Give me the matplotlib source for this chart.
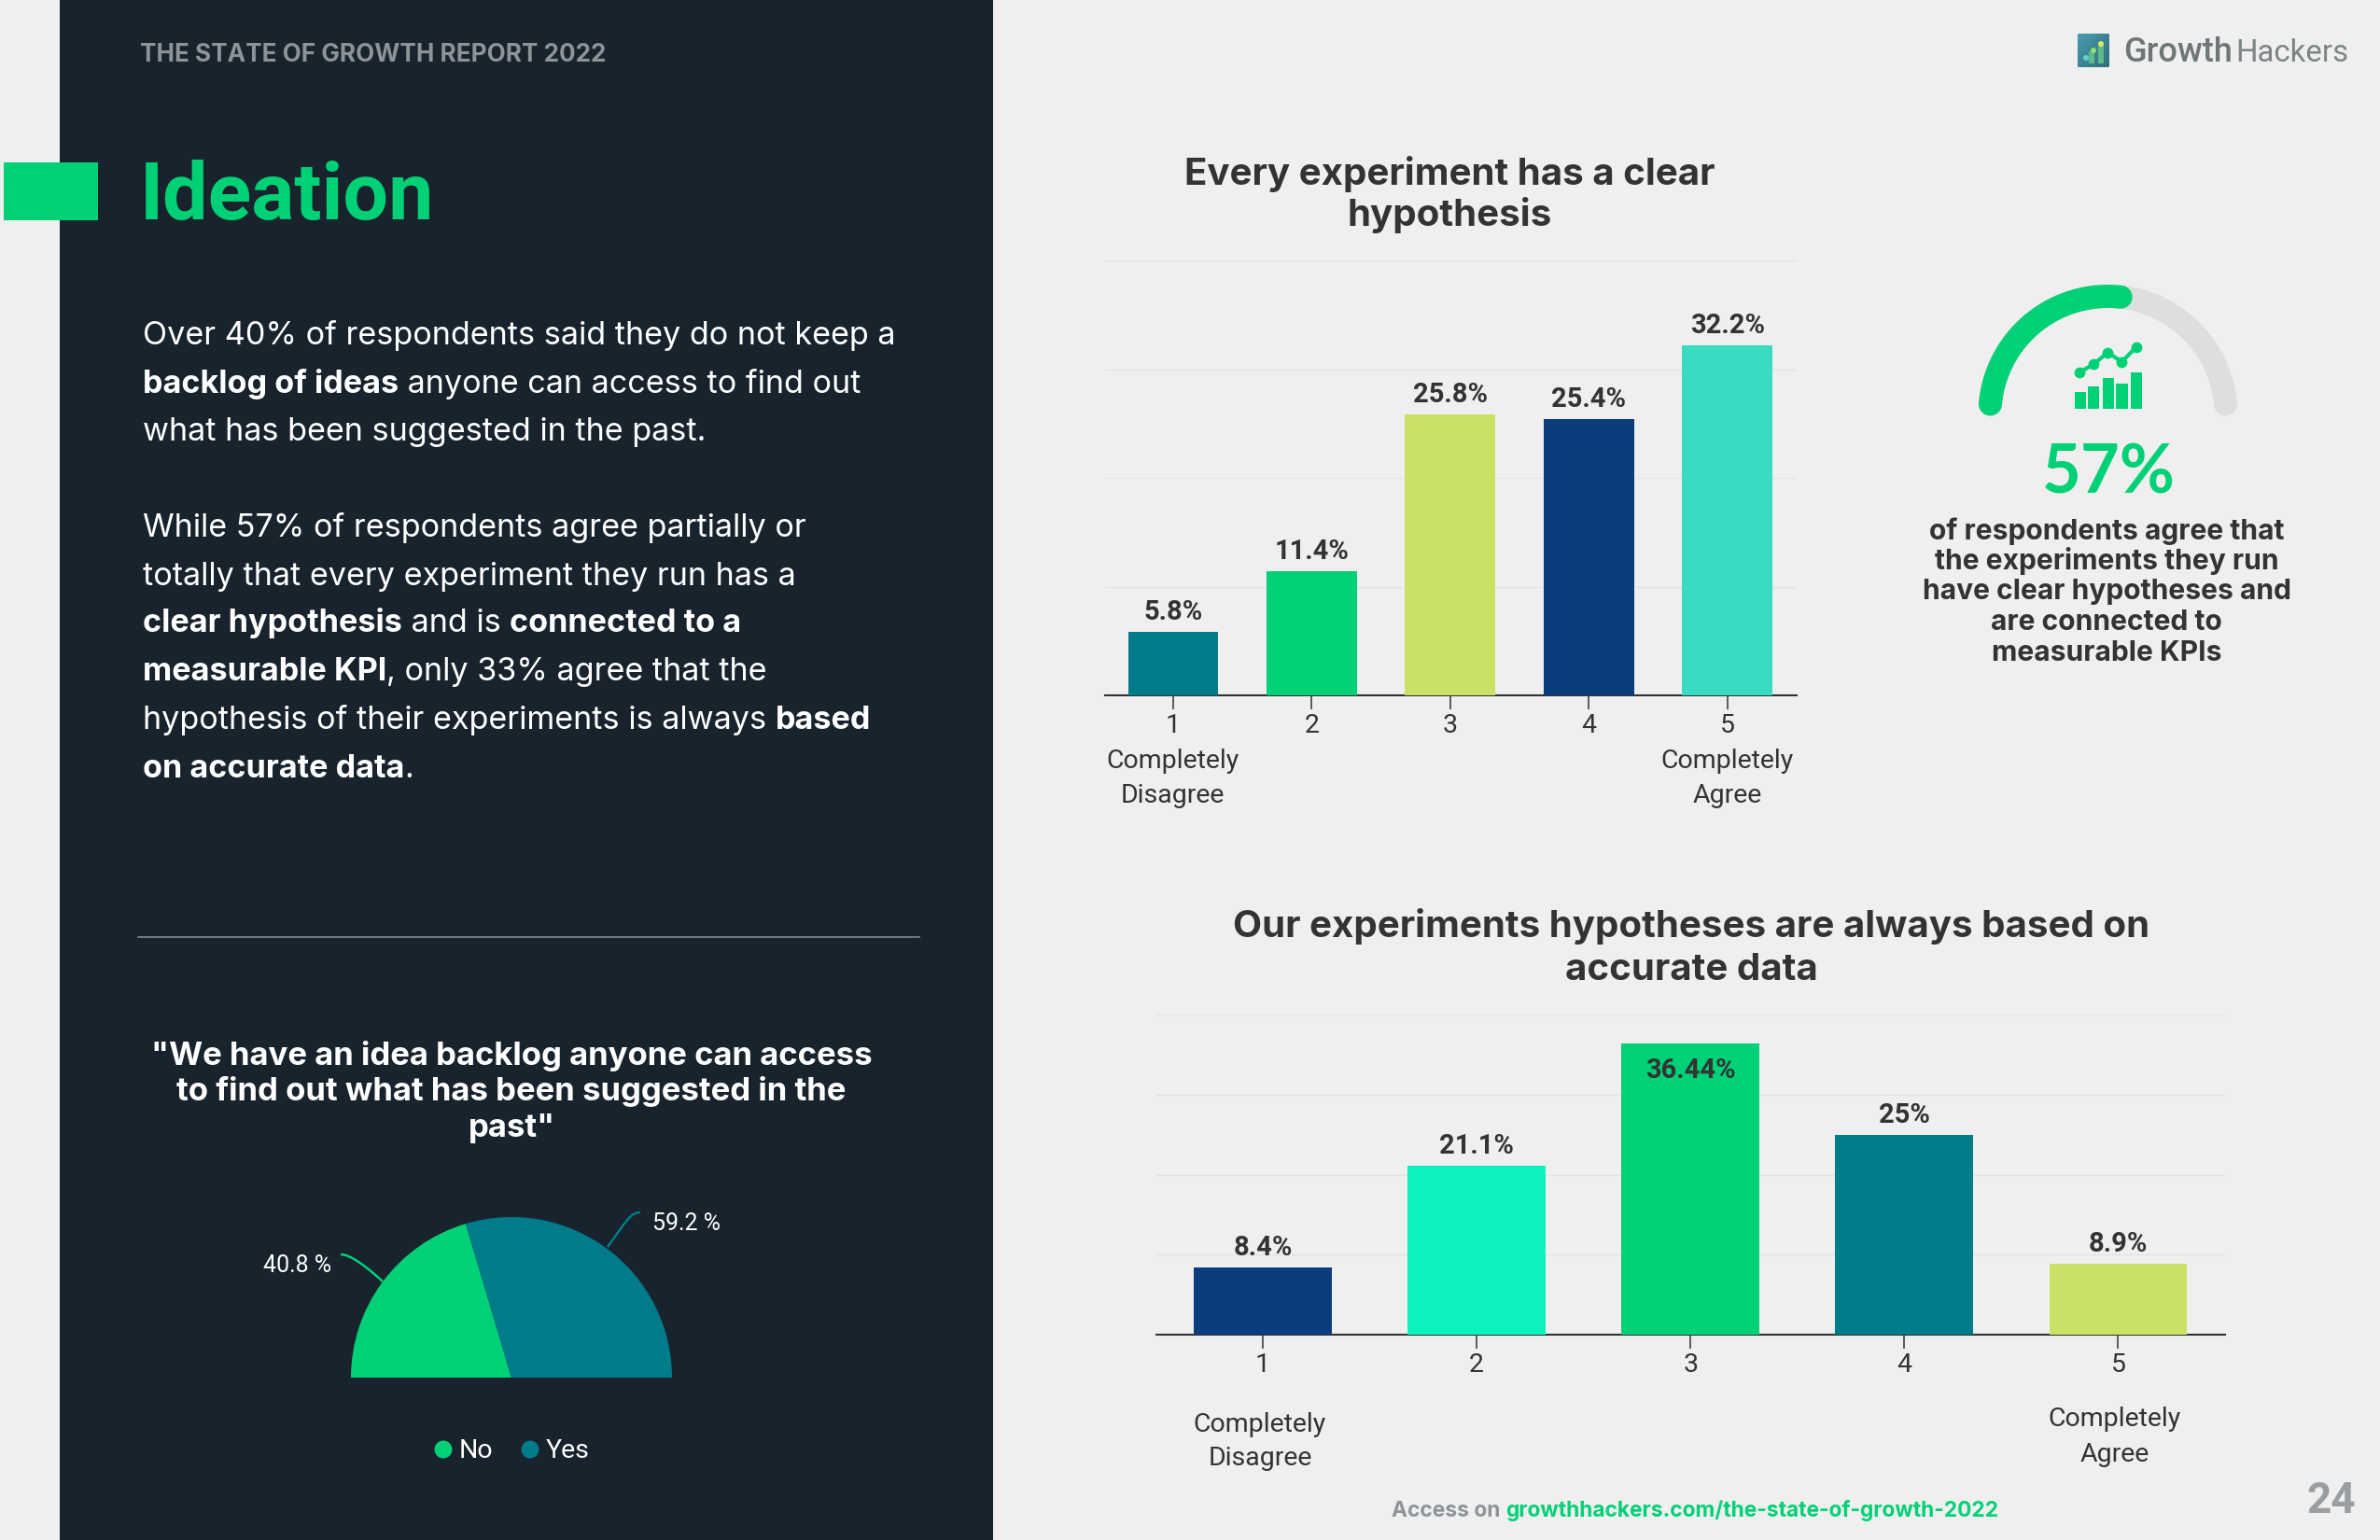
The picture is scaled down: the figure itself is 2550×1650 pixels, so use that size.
import numpy as np
import matplotlib
matplotlib.use("Agg")
import matplotlib.pyplot as plt
from matplotlib.patches import Rectangle, FancyBboxPatch, PathPatch, Circle
from matplotlib.path import Path

# datos
categories = ["1", "2", "3", "4", "5"]
clear_hypothesis = [5.8, 11.4, 25.8, 25.4, 32.2]
clear_labels = ["5.8%", "11.4%", "25.8%", "25.4%", "32.2%"]
accurate_data = [8.4, 21.1, 36.44, 25, 8.9]
accurate_labels = ["8.4%", "21.1%", "36.44%", "25%", "8.9%"]
backlog_names = ["No", "Yes"]
backlog_values = [40.8, 59.2]
gauge_pct = 57

# colores
BG = "#EFEFEF"
PANEL = "#18232D"
GREEN = "#00D176"
TEAL = "#007B8A"
LIME = "#C9E265"
NAVY = "#0B3D7C"
AQUA = "#3ADBC0"
MINT = "#0CF2BF"
DARK = "#333333"
GRAY = "#8C9498"

NARROW = "Roboto"
WIDE = "Inter"
DY = 3  # correccion vertical del texto

W, H = 2550, 1650
fig = plt.figure(figsize=(25.5, 16.5), dpi=100, facecolor=BG)


def axes_px(left, top, right, bottom, **kw):
    return fig.add_axes([left / W, 1 - bottom / H, (right - left) / W, (bottom - top) / H], **kw)


# capa general en pixeles
ov = axes_px(0, 0, W, H)
ov.set_xlim(0, W)
ov.set_ylim(H, 0)
ov.axis("off")
ov.add_patch(Rectangle((64, 0), 1000, H, color=PANEL, lw=0))
ov.add_patch(Rectangle((4, 174), 101, 62, color=GREEN, lw=0))
ov.plot([148, 985], [1004, 1004], color=GRAY, lw=1.1)


def draw_runs(x, y, runs, size, color="white", family=WIDE):
    # escribe trozos normal/negrita uno detras de otro
    rend = fig.canvas.get_renderer()
    for txt, bold in runs:
        t = ov.text(x, y + DY, txt, fontsize=size, color=color if not isinstance(bold, str) else bold,
                    family=family, fontweight="bold" if bold else "normal", va="center", ha="left")
        x += t.get_window_extent(rend).width


ov.text(150, 56 + DY, "THE STATE OF GROWTH REPORT 2022", fontsize=18.8, color=GRAY, family=WIDE,
        fontweight="bold", va="center")
ov.text(150, 207 + 4, "Ideation", fontsize=62, color=GREEN, family="Roboto", fontweight="bold", va="center")

body = [
    (356, [("Over 40% of respondents said they do not keep a", False)]),
    (408, [("backlog of ideas", True), (" anyone can access to find out", False)]),
    (460, [("what has been suggested in the past.", False)]),
    (563, [("While 57% of respondents agree partially or", False)]),
    (615, [("totally that every experiment they run has a", False)]),
    (665, [("clear hypothesis", True), (" and is ", False), ("connected to a", True)]),
    (717, [("measurable KPI", True), (", only 33% agree that the", False)]),
    (769, [("hypothesis of their experiments is always ", False), ("based", True)]),
    (821, [("on accurate data", True), (".", False)]),
]
for yy, runs in body:
    draw_runs(153, yy, runs, 24.6)

for yy, line in zip([1128, 1167, 1206], ['"We have an idea backlog anyone can access',
                                         "to find out what has been suggested in the", 'past"']):
    ov.text(548, yy + DY, line, fontsize=25, color="white", family=WIDE, fontweight="bold", ha="center", va="center")

for yy, line in zip([183, 228], ["Every experiment has a clear", "hypothesis"]):
    ov.text(1553, yy + DY, line, fontsize=29, color=DARK, family=WIDE, fontweight="bold", ha="center", va="center")
for yy, line in zip([990, 1036], ["Our experiments hypotheses are always based on", "accurate data"]):
    ov.text(1812, yy + DY, line, fontsize=29, color=DARK, family=WIDE, fontweight="bold", ha="center", va="center")


def bar_chart(ax, values, labels, colors, width, ticklabels, inside=()):
    x = np.arange(len(values))
    ax.bar(x, values, width=width, color=colors, zorder=3)
    ax.set_ylim(0, 40)
    ax.set_yticks([0, 10, 20, 30, 40])
    ax.tick_params(axis="y", length=0, labelleft=False)
    ax.grid(axis="y", color="#E3E3E3", lw=1, zorder=0)
    ax.set_xticks(x)
    ax.set_xticklabels(ticklabels, family=NARROW, fontsize=20.5, color=DARK, linespacing=1.5)
    ax.tick_params(axis="x", length=11, width=1.1, color=DARK, pad=3)
    ax.set_facecolor("none")
    for s in ["top", "left", "right"]:
        ax.spines[s].set_visible(False)
    ax.spines["bottom"].set_color(DARK)
    ax.spines["bottom"].set_linewidth(1.5)
    for i, (v, lab) in enumerate(zip(values, labels)):
        off, va = (-11, "top") if i in inside else (5, "bottom")
        ax.annotate(lab, (i, v), xytext=(0, off), textcoords="offset points", ha="center", va=va,
                    family=NARROW, fontweight="bold", fontsize=21, color=DARK, zorder=4)


ax1 = axes_px(1184, 279, 1925, 745)
bar_chart(ax1, clear_hypothesis, clear_labels, [TEAL, GREEN, LIME, NAVY, AQUA], 0.65,
          ["1\nCompletely\nDisagree", "2", "3", "4", "5\nCompletely\nAgree"])
ax1.set_xlim(-0.49, 4.5)

ax2 = axes_px(1239, 1087, 2384, 1430)
bar_chart(ax2, accurate_data, accurate_labels, [NAVY, MINT, GREEN, TEAL, LIME], 0.645, categories, inside=(2,))
ax2.set_xlim(-0.497, 4.5)

for xx, yy, line in [(1350, 1526, "Completely"), (1350, 1563, "Disagree"),
                     (2266, 1521, "Completely"), (2266, 1559, "Agree")]:
    ov.text(xx, yy, line, family=NARROW, fontsize=20.5, color=DARK, ha="center", va="center")

# medio pie
ax_pie = axes_px(548 - 172, 1476 - 172, 548 + 172, 1476 + 172)
hidden = sum(backlog_values)
wedges, _ = ax_pie.pie(backlog_values + [hidden], colors=[GREEN, TEAL, "none"], startangle=180,
                       counterclock=False, radius=1, wedgeprops={"lw": 0})
ax_pie.set_xlim(-1, 1)
ax_pie.set_ylim(-1, 1)

ov.add_patch(PathPatch(Path([(410, 1373), (385, 1350), (372, 1344), (365, 1344)],
                            [Path.MOVETO, Path.CURVE4, Path.CURVE4, Path.CURVE4]),
                       fc="none", ec=GREEN, lw=1.8))
ov.add_patch(PathPatch(Path([(651, 1336), (670, 1310), (675, 1299), (686, 1299)],
                            [Path.MOVETO, Path.CURVE4, Path.CURVE4, Path.CURVE4]),
                       fc="none", ec=TEAL, lw=1.8))
ov.text(355, 1353 + DY, f"{backlog_values[0]} %", family=NARROW, fontsize=18, color="white", ha="right", va="center")
ov.text(699, 1308 + DY, f"{backlog_values[1]} %", family=NARROW, fontsize=18, color="white", ha="left", va="center")

for cx, name, col in zip([475, 568], backlog_names, [GREEN, TEAL]):
    ov.add_patch(Circle((cx, 1553), 9.5, color=col, lw=0))
    ov.text(cx + 17, 1552 + DY, name, family=NARROW, fontsize=20.5, color="white", ha="left", va="center")


# medidor 57%
def arc_line(a0, a1, color):
    ang = np.radians(np.linspace(a0, a1, 80))
    ov.plot(2258.5 + 126.5 * np.cos(ang), 444 - 126.5 * np.sin(ang), color=color, lw=18,
            solid_capstyle="round")


arc_line(175, 5, "#DEDEDE")
arc_line(175, 175 - gauge_pct * 1.7 + 5.7, GREEN)

# icono de barras y linea
icon_x = [368, 412, 458, 502, 548]
icon_w = [36, 36, 36, 38, 36]
icon_top = [1260, 1243, 1215, 1232, 1197]
for ix, iw, it in zip(icon_x, icon_w, icon_top):
    ov.add_patch(Rectangle((2100 + ix / 3, it / 3), iw / 3, (1313 - it) / 3, color=GREEN, lw=0))
line_x = 2100 + np.array([385, 430, 475, 520, 566]) / 3
line_y = np.array([1197, 1170, 1133, 1163, 1116]) / 3
ov.plot(line_x, line_y, color=GREEN, lw=3, marker="o", ms=8.5, mew=0)

ov.text(2259, 508, f"{gauge_pct}%", family="Lato", fontsize=52, color=GREEN, ha="center", va="center",
        fontweight="bold")
for yy, line in zip([566, 598, 631, 664, 697],
                    ["of respondents agree that", "the experiments they run", "have clear hypotheses and",
                     "are connected to", "measurable KPIs"]):
    ov.text(2257, yy + DY, line, family=WIDE, fontsize=21.6, color=DARK, fontweight="bold", ha="center", va="center")

# logo
ax_logo = axes_px(2226, 36, 2260, 72)
ax_logo.axis("off")
grad = np.linspace(0, 1, 40).reshape(-1, 1) + np.linspace(0, 1, 40).reshape(1, -1)
img = ax_logo.imshow(grad, cmap=matplotlib.colors.LinearSegmentedColormap.from_list("l", ["#4A9AB0", "#2F6F78"]),
                     extent=[0, 34, 36, 0], aspect="auto")
clip = FancyBboxPatch((1.5, 1.5), 31, 33, boxstyle="round,pad=1.5", transform=ax_logo.transData, fc="none", ec="none")
ax_logo.add_patch(clip)
img.set_clip_path(clip)
for bx, bt in [(14, 19), (24, 13)]:
    ax_logo.add_patch(Rectangle((bx - 2.5, bt), 6, 32 - bt, color="#5FB98A", lw=0))
for px, py, c in [(9, 26, "#5FD0D8"), (17, 18, "#8FE36A"), (25, 11, "#D6EC60")]:
    ax_logo.add_patch(Circle((px, py), 3, color=c, lw=0))

ov.text(2275, 54 + DY, "Growth", family="Roboto", fontweight="medium", fontsize=26, color="#6F7678", va="center")
ov.text(2395, 54 + DY, "Hackers", family="Roboto", fontweight="normal", fontsize=23.8, color="#7D8486", va="center")

# pie de pagina
draw_runs(1491, 1616, [("Access on ", GRAY), ("growthhackers.com/the-state-of-growth-2022", GREEN)], 16.4)
ov.text(2524, 1605 + DY, "24", family="Roboto", fontweight="bold", fontsize=33, color="#9A9EA0", ha="right", va="center")

fig.savefig("out.png", dpi=100, facecolor=BG)
